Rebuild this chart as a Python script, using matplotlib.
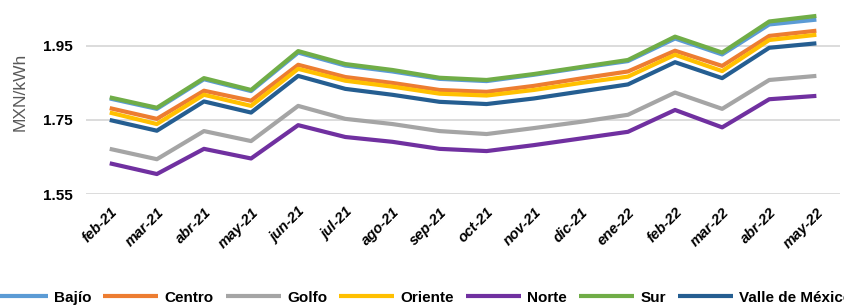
import matplotlib.pyplot as plt
import numpy as np

plt.rcParams['font.family'] = ['Liberation Sans Narrow', 'Liberation Sans', 'DejaVu Sans']

months = ['feb-21', 'mar-21', 'abr-21', 'may-21', 'jun-21', 'jul-21', 'ago-21', 'sep-21',
          'oct-21', 'nov-21', 'dic-21', 'ene-22', 'feb-22', 'mar-22', 'abr-22', 'may-22']

bajio = [1.808, 1.780, 1.860, 1.828, 1.932, 1.897, 1.881, 1.861, 1.855, 1.872, 1.891, 1.909, 1.970, 1.927, 2.008, 2.021]
centro = [1.782, 1.753, 1.829, 1.802, 1.899, 1.866, 1.850, 1.831, 1.826, 1.842, 1.862, 1.881, 1.937, 1.896, 1.977, 1.991]
golfo = [1.672, 1.644, 1.720, 1.693, 1.788, 1.753, 1.739, 1.720, 1.712, 1.728, 1.745, 1.764, 1.824, 1.780, 1.858, 1.869]
oriente = [1.770, 1.739, 1.818, 1.788, 1.888, 1.856, 1.840, 1.821, 1.816, 1.831, 1.850, 1.867, 1.926, 1.882, 1.966, 1.980]
norte = [1.633, 1.604, 1.672, 1.646, 1.736, 1.704, 1.691, 1.672, 1.666, 1.682, 1.700, 1.718, 1.777, 1.730, 1.806, 1.815]
sur = [1.811, 1.783, 1.863, 1.831, 1.936, 1.901, 1.885, 1.864, 1.858, 1.874, 1.893, 1.912, 1.975, 1.932, 2.016, 2.031]
valle = [1.750, 1.721, 1.800, 1.770, 1.869, 1.834, 1.818, 1.799, 1.793, 1.808, 1.827, 1.846, 1.906, 1.863, 1.945, 1.957]

series = [('Bajío', bajio, '#5B9BD5'), ('Centro', centro, '#ED7D31'), ('Golfo', golfo, '#A5A5A5'),
          ('Oriente', oriente, '#FFC000'), ('Norte', norte, '#7030A0'), ('Sur', sur, '#70AD47'),
          ('Valle de México', valle, '#255E91')]

fig = plt.figure(figsize=(8.45, 3.07), dpi=100)
ax = fig.add_axes([0.102, 0.368, 0.892, 0.632])

x = np.arange(len(months))
for name, vals, col in series:
    ax.plot(x, vals, color=col, lw=3, label=name, solid_capstyle='butt')

ax.set_xlim(-0.5, len(months) - 0.5)
ax.set_ylim(1.55, 2.074)
ax.set_yticks([1.55, 1.75, 1.95])
ax.set_yticklabels(['1.55', '1.75', '1.95'], fontweight='bold', fontsize=11)
ax.set_xticks(x)
ax.set_xticklabels(months, rotation=45, ha='right', rotation_mode='anchor',
                   fontweight='bold', fontstyle='italic', fontsize=10.5)
ax.tick_params(length=0)
ax.tick_params(axis='x', pad=8)
ax.tick_params(axis='y', pad=10)
ax.grid(axis='y', color='#D9D9D9', lw=1.3)
ax.set_axisbelow(True)
for s in ax.spines.values():
    s.set_visible(False)
ax.set_ylabel('MXN/kWh', color='#595959', fontsize=12.5)
ax.yaxis.set_label_coords(-0.078, 0.525)

fig.legend(loc='center', bbox_to_anchor=(0.5, 0.03), ncol=7, frameon=False,
           handlelength=3.6, columnspacing=0.8, handletextpad=0.4,
           prop={'weight': 'bold', 'size': 11})

fig.savefig('out.png', dpi=100)
